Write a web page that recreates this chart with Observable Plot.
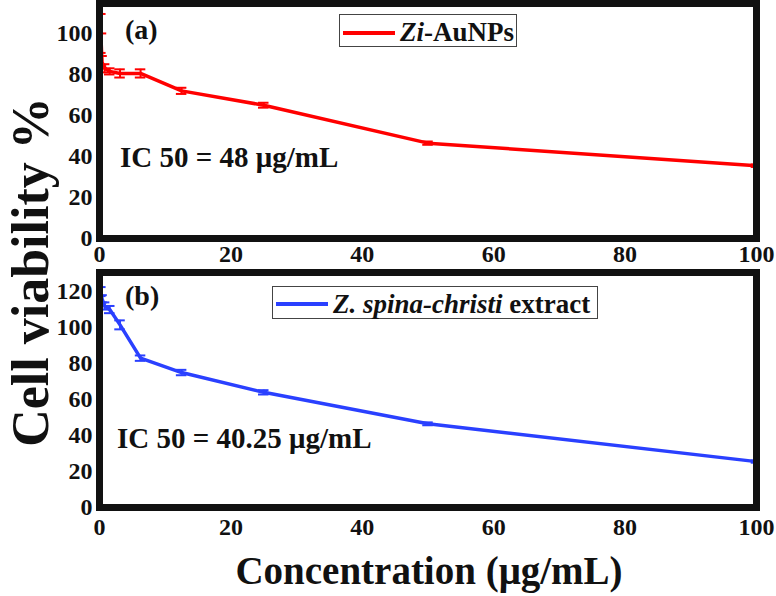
<!DOCTYPE html>
<html><head><meta charset="utf-8">
<script src="https://cdn.jsdelivr.net/npm/d3@7"></script>
<script src="https://cdn.jsdelivr.net/npm/@observablehq/plot@0.6"></script>
<style>
body{margin:0;background:#fff;}
#wrap{position:relative;width:776px;height:596px;font-family:"Liberation Serif","Times New Roman",serif;font-weight:bold;color:#111;overflow:hidden;}
#wrap svg{position:absolute;left:0;}
#wrap svg text{font-family:"Liberation Serif","Times New Roman",serif !important;font-weight:bold;}
.ann{position:absolute;white-space:nowrap;line-height:1;}
.leg{position:absolute;border:1px solid #444;background:#fff;box-sizing:border-box;white-space:nowrap;line-height:1;}
.leg .sw{position:absolute;left:3px;width:52px;height:4px;}
.leg .tx{position:absolute;left:60px;}
</style></head><body><div id="wrap"></div>
<script>
// Panel (a): Zi-AuNPs
const concA = [0.2, 0.3, 0.39, 0.78, 1.56, 3.125, 6.25, 12.5, 25, 50, 100];
const viabA = [100, 92, 86, 83, 81.5, 80.5, 80.5, 72, 65, 46.5, 35.5];
const errA  = [9.5, 8, 3, 2, 1.5, 2, 2, 1.5, 1.2, 0.8, 0.6];
// Panel (b): Z. spina-christi extract
const concB = [0.2, 0.39, 0.78, 1.56, 3.125, 6.25, 12.5, 25, 50, 100];
const viabB = [120, 116, 112, 110, 101.5, 83, 75, 64, 46.5, 25.5];
const errB  = [2.5, 2, 2, 2, 2.5, 1.5, 1.5, 1.2, 0.8, 0.6];
const xTicks = [0, 20, 40, 60, 80, 100];
const yTicksA = [0, 20, 40, 60, 80, 100];
const yTicksB = [0, 20, 40, 60, 80, 100, 120];

function panel({conc, viab, err, color, yDomain, yTicks, height, marginTop, marginBottom, xPad}) {
  const data = conc.map((x, i) => ({x, y: viab[i], e: err[i]}));
  return Plot.plot({
    width: 776, height, marginLeft: 99, marginRight: 20, marginTop, marginBottom,
    style: {fontFamily: "'Liberation Serif', serif", fontWeight: "bold", fontSize: "24px", color: "#111", background: "transparent", overflow: "visible"},
    x: {domain: [0, 100], ticks: xTicks, tickSize: 0, tickPadding: xPad, label: null},
    y: {domain: yDomain, ticks: yTicks, tickSize: 0, tickPadding: 7, label: null},
    marks: [
      Plot.ruleX(data, {x: "x", y1: d => d.y - d.e, y2: d => d.y + d.e, stroke: color, strokeWidth: 2, clip: true}),
      Plot.ruleY(data, {y: d => d.y - d.e, x1: d => d.x - 0.8, x2: d => d.x + 0.8, stroke: color, strokeWidth: 2, clip: true}),
      Plot.ruleY(data, {y: d => d.y + d.e, x1: d => d.x - 0.8, x2: d => d.x + 0.8, stroke: color, strokeWidth: 2, clip: true}),
      Plot.line(data, {x: "x", y: "y", stroke: color, strokeWidth: 3.5}),
      Plot.frame({stroke: "#111", strokeWidth: 7})
    ]
  });
}

const wrap = document.getElementById("wrap");
const pA = panel({conc: concA, viab: viabA, err: errA, color: "#ff0000", yDomain: [0, 114.6], yTicks: yTicksA, height: 266, marginTop: 3, marginBottom: 28, xPad: 6});
pA.style.top = "0px";
wrap.appendChild(pA);
const pB = panel({conc: concB, viab: viabB, err: errB, color: "#2a40ff", yDomain: [0, 130.6], yTicks: yTicksB, height: 280, marginTop: 6, marginBottom: 39, xPad: 10});
pB.style.top = "266px";
wrap.appendChild(pB);

function add(html, cls, css) {
  const d = document.createElement("div");
  d.className = cls;
  d.innerHTML = html;
  Object.assign(d.style, css);
  wrap.appendChild(d);
  return d;
}
add("(a)", "ann", {left: "125px", top: "16px", fontSize: "28px"});
add("(b)", "ann", {left: "125px", top: "282px", fontSize: "28px"});
add("IC 50 = 48 μg/mL", "ann", {left: "120px", top: "143px", fontSize: "29px"});
add("IC 50 = 40.25 μg/mL", "ann", {left: "117px", top: "424px", fontSize: "29px"});
add('<div class="sw" style="background:#ff0000;top:16px"></div><div class="tx" style="top:4px"><i>Zi</i>-AuNPs</div>', "leg", {left: "339px", top: "14px", width: "178px", height: "33px", fontSize: "27px"});
add('<div class="sw" style="background:#2a40ff;top:15px"></div><div class="tx" style="top:4px"><i>Z. spina-christi</i> extract</div>', "leg", {left: "272px", top: "286px", width: "326px", height: "33px", fontSize: "27px"});
add("Concentration (μg/mL)", "ann", {left: "429px", top: "551px", fontSize: "39px", transform: "translateX(-50%)"});
add("Cell viability %", "ann", {left: "31px", top: "272px", fontSize: "52px", lineHeight: "1", transform: "translate(-50%,-50%) rotate(-90deg)"});
</script></body></html>
